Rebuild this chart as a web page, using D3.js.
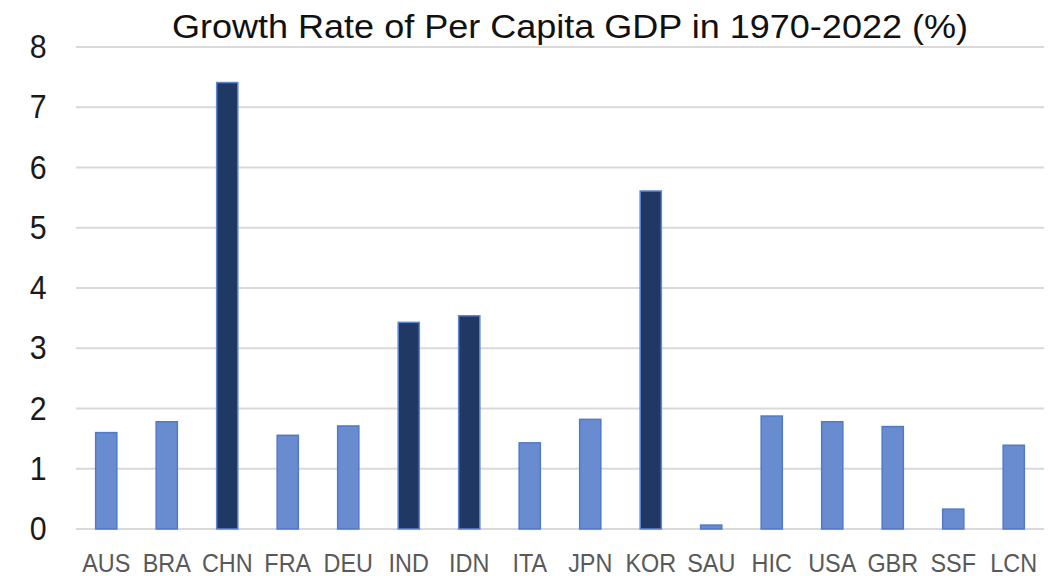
<!DOCTYPE html>
<html>
<head>
<meta charset="utf-8">
<script src="https://cdn.jsdelivr.net/npm/d3@7"></script>
<style>
  body { margin: 0; background: #fff; }
  svg { display: block; }
</style>
</head>
<body>
<div id="chart"></div>
<script>
// data
var countries = ["AUS","BRA","CHN","FRA","DEU","IND","IDN","ITA","JPN","KOR","SAU","HIC","USA","GBR","SSF","LCN"];
var growth = [1.60, 1.78, 7.41, 1.555, 1.71, 3.43, 3.54, 1.43, 1.82, 5.61, 0.065, 1.875, 1.78, 1.70, 0.33, 1.39];
var highlighted = ["CHN","IND","IDN","KOR"];
var yTicks = [0,1,2,3,4,5,6,7,8];
var title = "Growth Rate of Per Capita GDP in 1970-2022 (%)";

var W = 1056, H = 576;
var margin = {top: 47, right: 12, bottom: 47, left: 76},
    width = W - margin.left - margin.right,
    height = H - margin.top - margin.bottom;

var data = countries.map(function(c, i) { return {country: c, value: growth[i]}; });

var svg = d3.select("#chart").append("svg")
    .attr("width", W)
    .attr("height", H);

var g = svg.append("g")
    .attr("transform", "translate(" + margin.left + "," + margin.top + ")");

var x = d3.scaleBand()
    .domain(countries)
    .range([0, width])
    .paddingInner(0.65)
    .paddingOuter(0.325);

var y = d3.scaleLinear()
    .domain([0, 8])
    .range([height, 0]);

// gridlines
g.append("g")
    .selectAll("line")
    .data(yTicks)
    .enter().append("line")
    .attr("x1", 0)
    .attr("x2", width)
    .attr("y1", function(d) { return y(d); })
    .attr("y2", function(d) { return y(d); })
    .attr("stroke", "#d9d9d9")
    .attr("stroke-width", 2);

// bars
g.append("g")
    .selectAll("rect")
    .data(data)
    .enter().append("rect")
    .attr("x", function(d) { return x(d.country); })
    .attr("width", x.bandwidth())
    .attr("y", function(d) { return y(d.value); })
    .attr("height", function(d) { return y(0) - y(d.value); })
    .attr("fill", function(d) { return highlighted.indexOf(d.country) >= 0 ? "#203864" : "#698cd0"; })
    .attr("stroke", function(d) { return highlighted.indexOf(d.country) >= 0 ? "#5c86d3" : "#5079c8"; })
    .attr("stroke-width", 1.5);

// y axis
var yAxis = d3.axisLeft(y).tickValues(yTicks).tickSize(0).tickPadding(32);
g.append("g")
    .attr("class", "y axis")
    .call(yAxis)
    .call(function(s) { s.select(".domain").remove(); })
    .selectAll("text")
    .attr("font-family", "'Liberation Sans', Arial, sans-serif")
    .attr("font-size", 33)
    .attr("fill", "#1a1a1a")
    .attr("transform", "scale(0.92,1)");

// x axis
var xAxis = d3.axisBottom(x).tickSize(0);
g.append("g")
    .attr("class", "x axis")
    .attr("transform", "translate(0," + height + ")")
    .call(xAxis)
    .call(function(s) { s.select(".domain").remove(); })
    .selectAll("text")
    .attr("y", 43)
    .attr("dy", 0)
    .attr("font-family", "'Liberation Sans', Arial, sans-serif")
    .attr("font-size", 26)
    .attr("fill", "#595959")
    .attr("transform", "scale(0.9,1)");

// title
svg.append("text")
    .attr("x", (172 + 968) / 2)
    .attr("y", 38)
    .attr("text-anchor", "middle")
    .attr("font-family", "'Liberation Sans', Arial, sans-serif")
    .attr("font-size", 34)
    .attr("textLength", 796)
    .attr("lengthAdjust", "spacingAndGlyphs")
    .attr("fill", "#111")
    .text(title);
</script>
</body>
</html>
